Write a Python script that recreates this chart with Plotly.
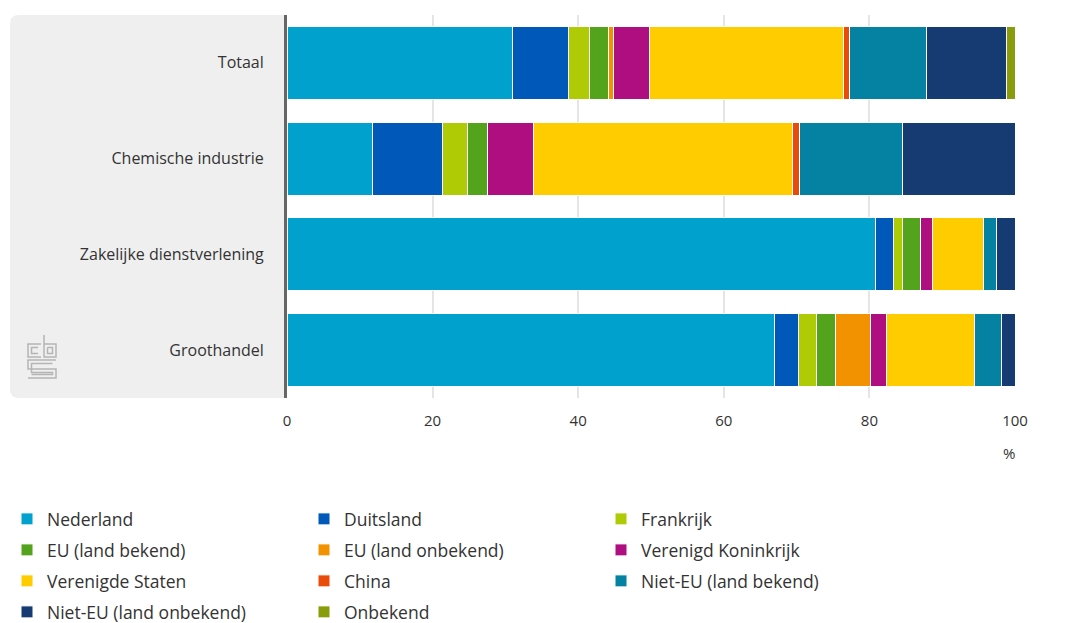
import plotly.graph_objects as go

categories = ["Totaal", "Chemische industrie", "Zakelijke dienstverlening", "Groothandel"]

series_names = [
    "Nederland", "Duitsland", "Frankrijk",
    "EU (land bekend)", "EU (land onbekend)", "Verenigd Koninkrijk",
    "Verenigde Staten", "China", "Niet-EU (land bekend)",
    "Niet-EU (land onbekend)", "Onbekend",
]

nederland = [31.0, 11.7, 80.9, 67.0]
duitsland = [7.6, 9.7, 2.4, 3.2]
frankrijk = [3.0, 3.4, 1.3, 2.6]
eu_bekend = [2.6, 2.8, 2.4, 2.6]
eu_onbekend = [0.6, 0.0, 0.0, 4.7]
verenigd_koninkrijk = [5.0, 6.3, 1.7, 2.3]
verenigde_staten = [26.7, 35.5, 7.0, 12.1]
china = [0.7, 1.0, 0.0, 0.0]
niet_eu_bekend = [10.6, 14.2, 1.8, 3.6]
niet_eu_onbekend = [11.0, 15.4, 2.5, 1.9]
onbekend = [1.2, 0.0, 0.0, 0.0]

series_values = [
    nederland, duitsland, frankrijk, eu_bekend, eu_onbekend,
    verenigd_koninkrijk, verenigde_staten, china, niet_eu_bekend,
    niet_eu_onbekend, onbekend,
]

colors = [
    "#00a1cd", "#0058b8", "#afcb05", "#53a31d", "#f39200", "#af0e80",
    "#ffcc00", "#e94c0a", "#0581a2", "#163a72", "#899d0c",
]

x_ticks = [0, 20, 40, 60, 80, 100]

# page geometry (the figure sits inside the page's 8px body margin)
O = 8
PAGE_W, PAGE_H = 1076, 623
W, H = PAGE_W - O, PAGE_H - O
PLOT_L, PLOT_R, PLOT_T, PLOT_B = 287, 1015, 15, 398  # page pixels
L, R, T, B = PLOT_L - O, PAGE_W - PLOT_R, PLOT_T - O, PAGE_H - PLOT_B
PW, PH = PLOT_R - PLOT_L, PLOT_B - PLOT_T


def px(x):
    return (x - PLOT_L) / PW


def py(y):
    return (PLOT_B - y) / PH


FONT = "Open Sans"
TXT = "#333333"

fig = go.Figure()
legend_ids = ["legend", "legend2", "legend3", "legend4"]
for i, (name, vals, col) in enumerate(zip(series_names, series_values, colors)):
    fig.add_trace(go.Bar(
        y=categories, x=vals, name=name, orientation="h",
        marker=dict(color=col, line=dict(color="white", width=1)),
        legend=legend_ids[i // 3],
        hovertemplate="%{y}<br>" + name + ": %{x}%<extra></extra>",
    ))

leg_common = dict(
    orientation="h", xanchor="left", yanchor="middle",
    entrywidth=252, entrywidthmode="pixels",
    font=dict(family=FONT, size=17.5, color=TXT),
    bgcolor="rgba(0,0,0,0)", traceorder="normal",
    itemclick=False, itemdoubleclick=False,
)
row_y = [519, 550, 581, 612]
legends = {}
for k, lid in enumerate(legend_ids):
    legends[lid] = dict(leg_common, x=px(7), y=py(row_y[k]))

# grey panel with rounded left corners
r = 9
x0, x1, y0, y1 = 10, 287, 15, 398
path = (
    f"M {px(x1)},{py(y0)} L {px(x0 + r)},{py(y0)} "
    f"Q {px(x0)},{py(y0)} {px(x0)},{py(y0 + r)} "
    f"L {px(x0)},{py(y1 - r)} Q {px(x0)},{py(y1)} {px(x0 + r)},{py(y1)} "
    f"L {px(x1)},{py(y1)} Z"
)
shapes = [dict(type="path", xref="paper", yref="paper", path=path,
               fillcolor="#efefef", line=dict(width=0), layer="below")]

# cbs logo (approximate)
logo_col = "#b5b5b5"
logo_paths = [
    [(41, 344), (28, 344), (28, 357), (41, 357)],
    [(44, 335), (44, 357), (56, 357), (56, 344), (44, 344)],
    [(56, 360), (28, 360), (28, 369), (56, 369), (56, 378), (28, 378)],
    [(38, 347.5), (31.5, 347.5), (31.5, 353.5), (38, 353.5)],
    [(47.5, 347.5), (52.5, 347.5), (52.5, 353.5), (47.5, 353.5), (47.5, 347.5)],
    [(52.5, 363.5), (31.5, 363.5), (31.5, 372.5), (52.5, 372.5), (52.5, 374.5), (31.5, 374.5)],
]
for pts in logo_paths:
    d = "M " + " L ".join(f"{px(a)},{py(b)}" for a, b in pts)
    shapes.append(dict(type="path", xref="paper", yref="paper", path=d,
                       line=dict(color=logo_col, width=1.5)))

fig.update_layout(
    width=W, height=H,
    margin=dict(l=L, r=R, t=T, b=B, pad=0, autoexpand=False),
    barmode="stack", bargap=0.24,
    paper_bgcolor="white", plot_bgcolor="white",
    font=dict(family=FONT, size=16, color=TXT),
    shapes=shapes,
    annotations=[dict(text="%", xref="paper", yref="paper",
                      x=px(1009), y=py(453), xanchor="center", yanchor="middle",
                      showarrow=False,
                      font=dict(family=FONT, size=15, color=TXT))],
    showlegend=True,
    **legends,
)
fig.update_xaxes(
    range=[0, 100], tickvals=x_ticks, ticktext=[str(v) for v in x_ticks],
    showgrid=True, gridcolor="#e5e5e5", gridwidth=2,
    zeroline=False, showline=False, ticks="", ticklabelstandoff=12,
    tickfont=dict(family=FONT, size=15, color=TXT), fixedrange=True,
)
fig.update_yaxes(
    categoryorder="array", categoryarray=categories, autorange="reversed",
    showline=True, linecolor="#666666", linewidth=3, ticks="",
    ticklabelstandoff=17, showgrid=False,
    tickfont=dict(family=FONT, size=16, color=TXT), fixedrange=True,
)

fig.write_html("out.html")
